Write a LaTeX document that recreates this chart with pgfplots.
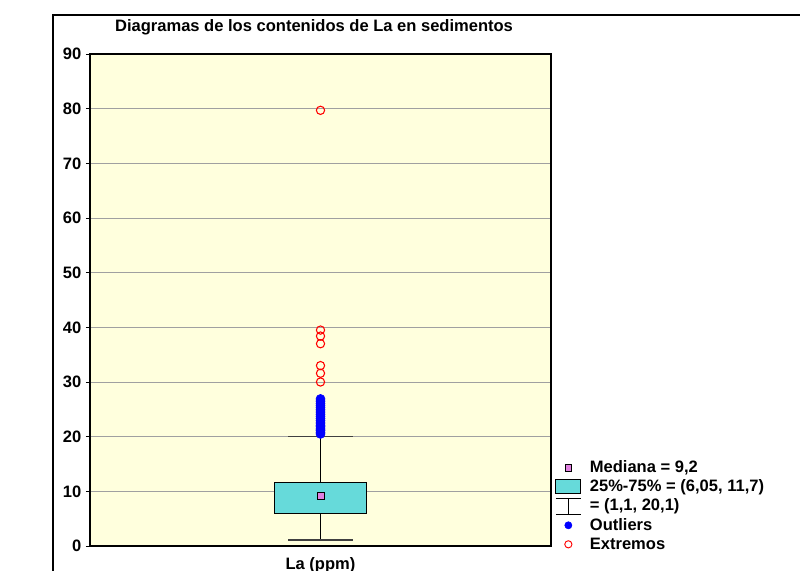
\documentclass[border=0pt]{standalone}
\usepackage{fontspec}
\setmainfont{Liberation Sans}
\usepackage{pgfplots}
\pgfplotsset{compat=1.18}
\definecolor{bgcol}{RGB}{255,255,221}
\definecolor{boxcol}{RGB}{102,218,218}
\definecolor{medcol}{RGB}{224,128,224}
\definecolor{gridcol}{RGB}{160,160,160}
\definecolor{capcol}{RGB}{64,64,64}
\newcommand{\ff}{\fontsize{12.4}{14.4}\selectfont\bfseries}
\pgfplotsset{
 mylegmark/.style={legend image code/.code={\draw[mark repeat=2,mark phase=2,##1] plot coordinates {(0pt,0pt) (9.4pt,0pt) (18.8pt,0pt)};}},
 mylegbox/.style={legend image code/.code={\draw[black, fill=boxcol, line width=0.6pt] (0pt,-5.25pt) rectangle (18.75pt,5.25pt);}},
 myleg whisk/.style={legend image code/.code={\draw[black, line width=0.6pt] (0pt,-6pt) -- (18.75pt,-6pt) (0pt,6pt) -- (18.75pt,6pt) (9.4pt,-6pt) -- (9.4pt,6pt);}}
}
\begin{document}
\begin{tikzpicture}
\useasboundingbox (0,0) rectangle (600pt,428.25pt);
\draw[line width=1.1pt] (39.75pt,-10pt) -- (39.75pt,417pt) -- (610pt,417pt);
\begin{axis}[
 at={(67.5pt,18.75pt)}, anchor=south west,
 scale only axis, width=345.75pt, height=369pt,
 xmin=0, xmax=1, ymin=0, ymax=90,
 axis background/.style={fill=bgcol},
 axis line style={black, line width=0.8pt},
 ytick={0,10,...,90}, ytick pos=left, tick align=outside, major tick length=3pt,
 y tick style={black, line width=0.6pt},
 ymajorgrids, grid style={gridcol, line width=0.6pt},
 xtick={0.5}, xticklabels={La (ppm)}, x tick style={draw=none},
 xticklabel style={yshift=-2pt},
 tick label style={font=\ff}, /pgf/number format/assume math mode=true,
 title={Diagramas de los contenidos de La en sedimentos},
 title style={font=\ff, at={(0.486,1)}, anchor=center, yshift=14.25pt},
 legend style={font=\ff, draw=none, fill=none, at={(1.009,0.18)}, anchor=north west,
   inner sep=0pt, row sep=0pt, column sep=4.5pt},
 legend cell align=left,
 clip=false
]
\addlegendimage{only marks, mark=square*, mark size=2.6pt, mark options={draw=black, fill=medcol, line width=0.5pt}, mylegmark}
\addlegendentry{Mediana = 9,2}
\addlegendimage{mylegbox}
\addlegendentry{25\%-75\% = (6,05, 11,7)}
\addlegendimage{myleg whisk}
\addlegendentry{= (1,1, 20,1)}
\addlegendimage{only marks, mark=*, mark size=2.7pt, blue, mark options={draw=blue, fill=blue}, mylegmark}
\addlegendentry{Outliers}
\addlegendimage{only marks, mark=o, mark size=2.7pt, red, mark options={line width=0.7pt}, mylegmark}
\addlegendentry{Extremos}

\addplot[black, line width=0.6pt, forget plot] coordinates {(0.5,1.1) (0.5,6.05)};
\addplot[black, line width=0.6pt, forget plot] coordinates {(0.5,11.7) (0.5,20.1)};
\addplot[capcol, line width=0.9pt, forget plot] coordinates {(0.43,1.1) (0.57,1.1)};
\addplot[capcol, line width=0.9pt, forget plot] coordinates {(0.43,20.1) (0.57,20.1)};
\addplot[fill=boxcol, draw=black, line width=0.6pt, forget plot] coordinates {(0.4,6.05) (0.6,6.05) (0.6,11.7) (0.4,11.7)} -- cycle;
\addplot[only marks, mark=square*, mark size=2.7pt, mark options={fill=medcol, draw=black, line width=0.5pt}, forget plot] coordinates {(0.5,9.2)};
\addplot[only marks, mark=*, mark size=3.4pt, mark options={draw=blue, fill=blue}, forget plot] coordinates {
 (0.5,20.5) (0.5,20.8) (0.5,21.1) (0.5,21.4) (0.5,21.8) (0.5,22.1) (0.5,22.5) (0.5,22.9)
 (0.5,23.3) (0.5,23.7) (0.5,24.1) (0.5,24.5) (0.5,24.9) (0.5,25.3) (0.5,25.7) (0.5,26.1)
 (0.5,26.5) (0.5,26.9)};
\addplot[only marks, mark=o, mark size=3.1pt, red, mark options={line width=0.8pt}, forget plot] coordinates {
 (0.5,30.0) (0.5,31.6) (0.5,33.0) (0.5,37.0) (0.5,38.4) (0.5,39.5) (0.5,79.7)};
\end{axis}
\end{tikzpicture}
\end{document}
